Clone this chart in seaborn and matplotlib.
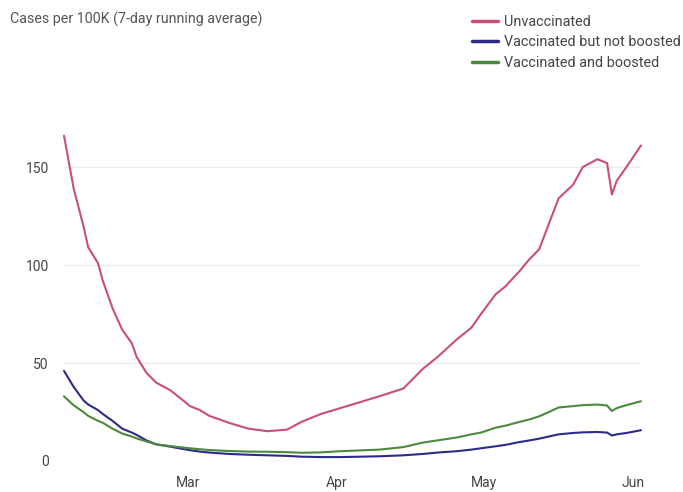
import numpy as np
import pandas as pd
import matplotlib
matplotlib.use("Agg")
import matplotlib.pyplot as plt
from matplotlib.lines import Line2D
import seaborn as sns

sns.set_theme(style="white")
plt.rcParams['font.family'] = ['Roboto', 'DejaVu Sans']

start = "2022-02-06"
days = [0, 2, 4, 5, 7, 8, 10, 12, 14, 15, 17, 19, 22, 23, 26, 28, 30, 34, 38, 42, 46, 49,
        53, 57, 61, 65, 70, 74, 77, 81, 84, 86, 89, 91, 94, 96, 98, 100, 102, 105, 107,
        110, 112, 113, 114, 116, 119]
unvaccinated = [166, 139, 120, 109, 101, 92, 78, 67, 60, 53, 45, 40, 36, 34, 28, 26, 23, 19.5,
                16.5, 15.2, 16, 20, 24, 27, 30, 33, 37, 47, 53, 62, 68, 75, 85, 89, 97, 103,
                108, 121, 134, 141, 150, 154, 152, 136, 143, 150, 161]
vacc_not_boosted = [46, 37.8, 31, 28.8, 26, 24, 20.5, 16.5, 14.5, 13.3, 10.5, 8.5, 7.3, 6.8, 5.5,
                    4.8, 4.3, 3.6, 3.2, 2.9, 2.6, 2.2, 2, 2, 2.2, 2.4, 2.9, 3.6, 4.3, 5, 5.8,
                    6.5, 7.5, 8.2, 9.7, 10.5, 11.4, 12.5, 13.6, 14.3, 14.6, 14.8, 14.5, 13,
                    13.6, 14.3, 15.7]
vacc_boosted = [33, 28.4, 25, 23, 20.5, 19.5, 16.5, 14, 12.5, 11.5, 10, 8.5, 7.6, 7.3, 6.5, 6,
                5.6, 5.1, 4.8, 4.7, 4.5, 4.2, 4.4, 5, 5.4, 5.8, 7.1, 9.4, 10.5, 12, 13.6, 14.5,
                17, 18, 20, 21.2, 22.8, 25, 27.3, 28, 28.5, 28.8, 28.3, 25.5, 27, 28.5, 30.5]
series_names = ["Unvaccinated", "Vaccinated but not boosted", "Vaccinated and boosted"]
colors = ["#c94f78", "#2d2a8a", "#4b8a3b"]
yticks = [0, 50, 100, 150]
xtick_dates = ["2022-03-01", "2022-04-01", "2022-05-01", "2022-06-01"]
xtick_labels = ["Mar", "Apr", "May", "Jun"]

dates = pd.to_datetime(start) + pd.to_timedelta(days, unit="D")
df = pd.DataFrame({"date": dates, series_names[0]: unvaccinated,
                   series_names[1]: vacc_not_boosted, series_names[2]: vacc_boosted})
long = df.melt(id_vars="date", var_name="group", value_name="cases")

fig = plt.figure(figsize=(6.83, 4.92), dpi=100)
ax = fig.add_axes([64/683, 1 - 461/492, (641 - 64)/683, (461 - 133.7)/492])

sns.lineplot(data=long, x="date", y="cases", hue="group", hue_order=series_names,
             palette=colors, linewidth=1.5, ax=ax, legend=False)
for ln in ax.lines:
    ln.set_clip_on(False)
    ln.set_zorder(3)

ax.set_xlim(dates[0], dates[-1])
ax.set_ylim(0, 167)
ax.set_yticks(yticks)
ax.set_yticklabels([str(v) for v in yticks], fontsize=10, color="#444444")
ax.grid(axis="y", color="#ececec", linewidth=1)
ax.grid(axis="x", visible=False)
for s in ax.spines.values():
    s.set_visible(False)
ax.tick_params(axis="y", length=0, pad=11)

xt = pd.to_datetime(xtick_dates)
ax.set_xticks(xt)
ax.set_xticklabels(xtick_labels, fontsize=10, color="#444444", ha="left")
ax.tick_params(axis="x", length=3, color="#cccccc", width=1, pad=8, direction="out")
ax.set_xlabel("")
ax.set_ylabel("")

fig.text(10/683, 1 - 19/492, "Cases per 100K (7-day running average)", fontsize=10.3,
         color="#555555", va="center", ha="left")

handles = [Line2D([0], [0], color=c, linewidth=2.5) for c in colors]
leg = fig.legend(handles, series_names, loc="upper left", bbox_to_anchor=(466/683, 1 - 9/492),
                 frameon=False, fontsize=10.4, handlelength=1.8, handletextpad=0.4,
                 labelspacing=0.45, borderaxespad=0)
for t in leg.get_texts():
    t.set_color("#444444")

fig.savefig("out.png", dpi=100)
